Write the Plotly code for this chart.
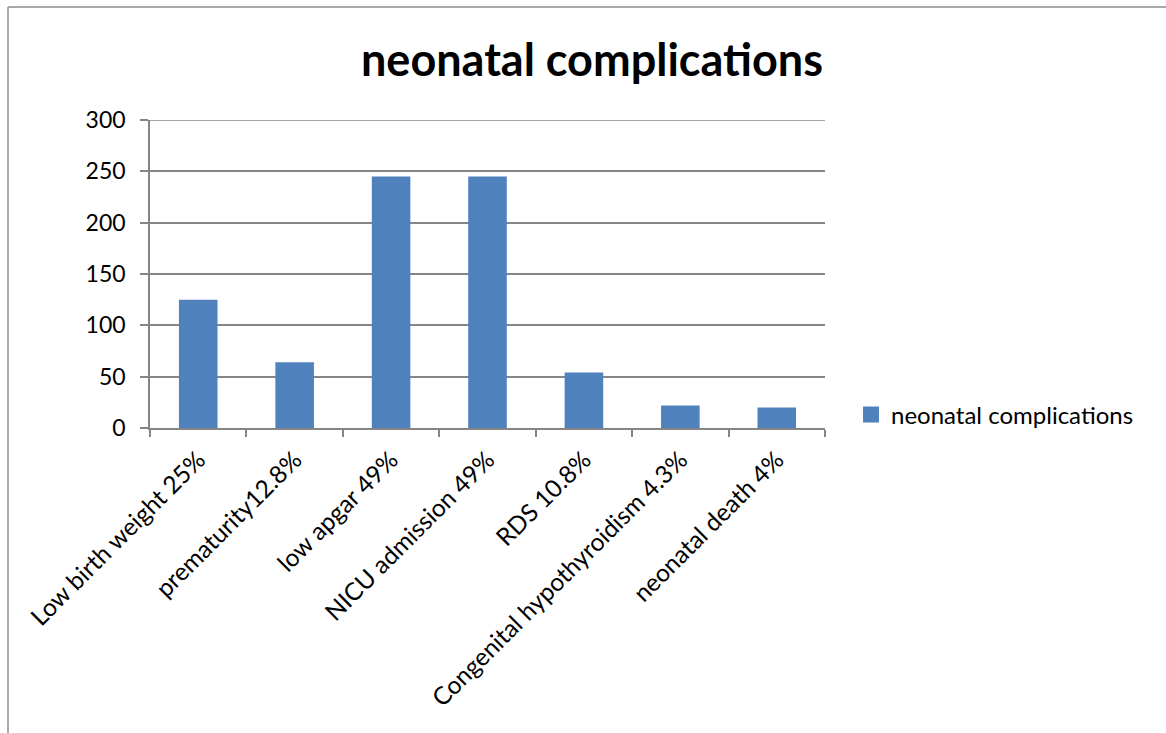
import plotly.graph_objects as go

categories = [
    "Low birth weight 25%",
    "prematurity12.8%",
    "low apgar 49%",
    "NICU admission 49%",
    "RDS 10.8%",
    "Congenital hypothyroidism 4.3%",
    "neonatal death 4%",
]
values = [125, 64, 245, 245, 54, 22, 20]
series_name = "neonatal complications"
y_ticks = [0, 50, 100, 150, 200, 250, 300]

W, H = 1166, 733
L, R, T, B = 150, 341, 120, 305
pw, ph = W - L - R, H - T - B

FONT = "Lato, 'Open Sans', sans-serif"
GRID = "#868686"
BAR = "#4F81BD"

fig = go.Figure()
fig.add_trace(go.Bar(
    x=categories, y=values, name=series_name, showlegend=False,
    marker=dict(color=BAR, line=dict(color=BAR, width=0)),
    width=0.4,
))
# legend entry with a larger square swatch
fig.add_trace(go.Scatter(
    x=[None], y=[None], mode="markers", name=series_name,
    marker=dict(symbol="square", size=16, color=BAR),
))

# top gridline at the range maximum
fig.add_shape(type="line", xref="paper", yref="y", x0=0, x1=1, y0=300, y1=300,
              line=dict(color=GRID, width=1.5), layer="below")

# outer frame of the chart area (left and top edges)
fx = (8 - L) / pw
fy_top = (H - B - 7) / ph
fy_bot = (H - B - H) / ph
fig.add_shape(type="line", xref="paper", yref="paper", x0=fx, x1=fx, y0=fy_bot, y1=fy_top,
              line=dict(color="#8C8C8C", width=1.5))
fig.add_shape(type="line", xref="paper", yref="paper", x0=fx, x1=(W - L) / pw, y0=fy_top, y1=fy_top,
              line=dict(color="#8C8C8C", width=1.5))

fig.update_layout(
    width=W, height=H,
    margin=dict(l=L, r=R, t=T, b=B, autoexpand=False),
    paper_bgcolor="white", plot_bgcolor="white",
    title=dict(text="<b>neonatal complications</b>", x=592 / W, xanchor="center",
               y=1 - 60 / H, yanchor="middle",
               font=dict(family=FONT, size=45, color="black")),
    font=dict(family=FONT, size=24, color="black"),
    showlegend=True,
    legend=dict(x=(851 - L) / pw, y=(H - B - 415) / ph, xanchor="left", yanchor="middle",
                font=dict(family=FONT, size=24, color="black"),
                itemwidth=30, bgcolor="rgba(0,0,0,0)"),
    bargap=0.6,
)
fig.update_xaxes(
    type="category", tickangle=-45, showgrid=False,
    showline=True, linecolor=GRID, linewidth=1.5,
    ticks="outside", tickson="boundaries", ticklen=7, tickcolor=GRID, tickwidth=1.5,
    tickfont=dict(family=FONT, size=24.5, color="black"),
    ticklabelstandoff=6,
)
fig.update_yaxes(
    range=[0, 300], tickvals=y_ticks, showgrid=True, gridcolor=GRID, gridwidth=1.5,
    showline=True, linecolor=GRID, linewidth=1.5, zeroline=False,
    ticks="outside", ticklen=8, tickcolor=GRID, tickwidth=1.5,
    tickfont=dict(family=FONT, size=23, color="black"),
    ticklabelstandoff=10,
)

fig.write_html("out.html")
